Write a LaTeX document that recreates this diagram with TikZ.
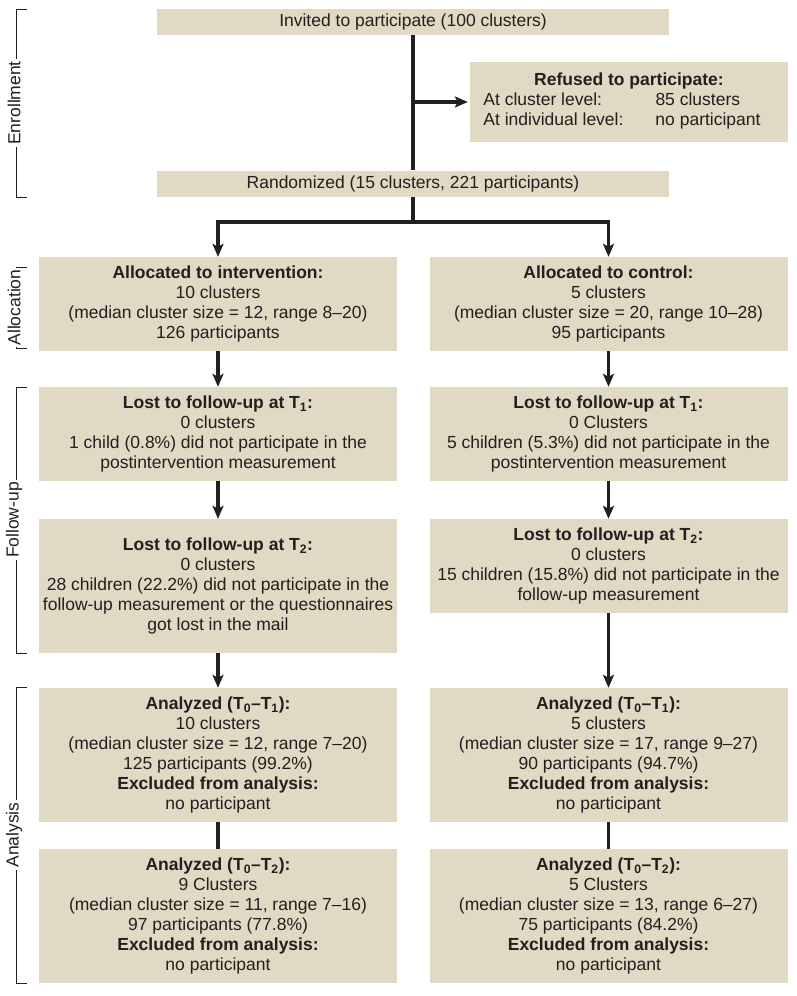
\documentclass[tikz,border=0pt]{standalone}
\usepackage{fontspec}
\setmainfont{Liberation Sans}
\usetikzlibrary{arrows.meta, positioning}
\definecolor{boxfill}{HTML}{E0D9C4}
\definecolor{ink}{HTML}{231F20}

\tikzset{
  box/.style={fill=boxfill, text=ink, align=center, inner sep=0pt, minimum width=358pt},
  wide/.style={box, minimum width=512pt, minimum height=26pt},
  link/.style={draw=ink, line width=3.2pt},
  arr/.style={link, ->},
  phase/.style={draw=ink, line width=0.9pt},
  phaselabel/.style={fill=white, text=ink, rotate=90, inner sep=2pt},
}

\begin{document}
\begin{tikzpicture}[x=1pt, y=-1pt, font=\fontsize{17.5}{20}\selectfont,
    >={Stealth[length=13pt, width=11pt, inset=3pt]}]
  \useasboundingbox[fill=white] (0,0) rectangle (797,996);

  % Enrollment
  \node[wide] (invited) at (413,22) {Invited to participate (100 clusters)};
  \node[box, minimum width=318pt, minimum height=80pt] (refused) at (629,102)
    {\textbf{Refused to participate:}\\
     \begin{tabular}[t]{@{}l@{\hspace{32pt}}l@{}}
       At cluster level: & 85 clusters\\
       At individual level: & no participant
     \end{tabular}\hspace*{14pt}};
  \node[wide] (random) at (413,183.5) {Randomized (15 clusters, 221 participants)};

  % Allocation
  \node[box, minimum height=94pt] (allocI) at (218,304)
    {\textbf{Allocated to intervention:}\\10 clusters\\(median cluster size = 12, range 8--20)\\126 participants};
  \node[box, minimum height=94pt] (allocC) at (608.5,304)
    {\textbf{Allocated to control:}\\5 clusters\\(median cluster size = 20, range 10--28)\\95 participants};

  % Follow-up
  \node[box, minimum height=94pt] (lostIa) at (218,434)
    {\textbf{Lost to follow-up at T\textsubscript{1}:}\\0 clusters\\1 child (0.8\%) did not participate in the\\postintervention measurement};
  \node[box, minimum height=94pt] (lostCa) at (608.5,434)
    {\textbf{Lost to follow-up at T\textsubscript{1}:}\\0 Clusters\\5 children (5.3\%) did not participate in the\\postintervention measurement};
  \node[box, minimum height=134pt] (lostIb) at (218,586)
    {\textbf{Lost to follow-up at T\textsubscript{2}:}\\0 clusters\\28 children (22.2\%) did not participate in the\\follow-up measurement or the questionnaires\\got lost in the mail};
  \node[box, minimum height=94pt] (lostCb) at (608.5,566)
    {\textbf{Lost to follow-up at T\textsubscript{2}:}\\0 clusters\\15 children (15.8\%) did not participate in the\\follow-up measurement};

  % Analysis
  \node[box, minimum height=134pt] (anaIa) at (218,755)
    {\textbf{Analyzed (T\textsubscript{0}--T\textsubscript{1}):}\\10 clusters\\(median cluster size = 12, range 7--20)\\125 participants (99.2\%)\\\textbf{Excluded from analysis:}\\no participant};
  \node[box, minimum height=134pt] (anaCa) at (608.5,755)
    {\textbf{Analyzed (T\textsubscript{0}--T\textsubscript{1}):}\\5 clusters\\(median cluster size = 17, range 9--27)\\90 participants (94.7\%)\\\textbf{Excluded from analysis:}\\no participant};
  \node[box, minimum height=134pt] (anaIb) at (218,916)
    {\textbf{Analyzed (T\textsubscript{0}--T\textsubscript{2}):}\\9 Clusters\\(median cluster size = 11, range 7--16)\\97 participants (77.8\%)\\\textbf{Excluded from analysis:}\\no participant};
  \node[box, minimum height=134pt] (anaCb) at (608.5,916)
    {\textbf{Analyzed (T\textsubscript{0}--T\textsubscript{2}):}\\5 Clusters\\(median cluster size = 13, range 6--27)\\75 participants (84.2\%)\\\textbf{Excluded from analysis:}\\no participant};

  % Verbindungen
  \coordinate (tap) at (invited.south |- refused.west);
  \coordinate (fork) at (413,222);
  \draw[link] (invited) -- (random);
  \draw[arr, shorten >=2pt] (tap) -- (refused);
  \draw[link] (random) -- (fork);
  \draw[arr] (fork) -| (allocI);
  \draw[arr] (fork) -| (allocC);
  \draw[arr] (allocI) -- (lostIa);
  \draw[arr] (lostIa) -- (lostIb);
  \draw[arr] (lostIb) -- (anaIa);
  \draw[link] (anaIa) -- (anaIb);
  \draw[arr] (allocC) -- (lostCa);
  \draw[arr] (lostCa) -- (lostCb);
  \draw[arr] (lostCb) -- (anaCa);
  \draw[link] (anaCa) -- (anaCb);

  % Phasen
  \draw[phase] (27,9) -- (16,9) -- (16,197) -- (27,197);
  \node[phaselabel] (enroll) at (14,103) {Enrollment};
  \draw[phase] (27,267) -- (16,267) -- (16,348) -- (27,348);
  \node[phaselabel] (alloc) at (14,307.5) {Allocation};
  \draw[phase] (27,387) -- (16,387) -- (16,653) -- (27,653);
  \node[phaselabel] (follow) at (14,520) {Follow-up};
  \draw[phase] (27,687) -- (16,687) -- (16,983) -- (27,983);
  \node[phaselabel] (analysis) at (14,835) {Analysis};
\end{tikzpicture}
\end{document}
